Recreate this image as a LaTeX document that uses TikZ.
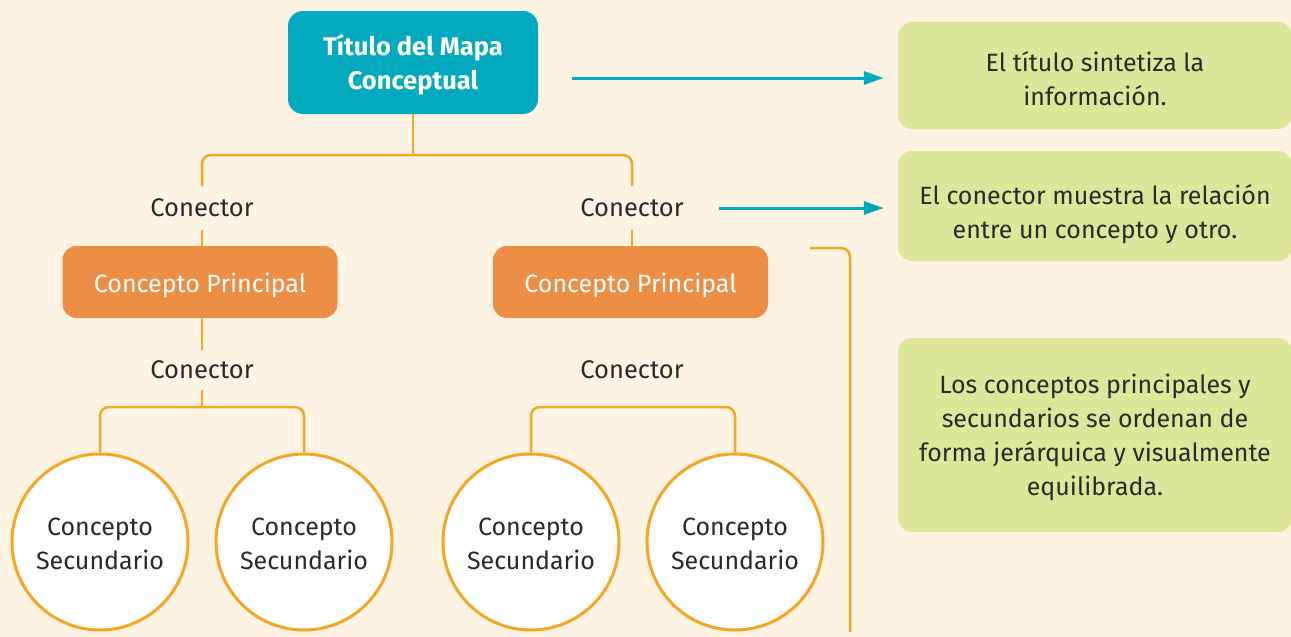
\documentclass[tikz,border=0pt]{standalone}
\usepackage{fontspec}
\setmainfont{Fira Sans}
\usetikzlibrary{arrows.meta}
\definecolor{bg}{HTML}{FDF3E2}
\definecolor{teal}{HTML}{03AABF}
\definecolor{orbox}{HTML}{EC8E45}
\definecolor{orline}{HTML}{F5A623}
\definecolor{green}{HTML}{DDE799}
\definecolor{txt}{HTML}{2A2A2A}
\tikzset{
  tdown/.style={execute at begin node={\rule{0pt}{#1}}},
  titlebox/.style={fill=teal, rounded corners=15pt, minimum width=250pt, minimum height=103pt, inner sep=0pt, text=white, align=center, font=\fontsize{25.5}{34}\selectfont\bfseries, text depth=1pt},
  pbox/.style={fill=orbox, rounded corners=14pt, minimum width=275pt, minimum height=72pt, inner sep=0pt, text=white, font=\fontsize{25}{34}\selectfont, tdown=26pt},
  sec/.style={circle, draw=orline, line width=3pt, fill=white, minimum size=176pt, inner sep=0pt, text=txt, align=center, font=\fontsize{25}{34}\selectfont, text depth=0pt},
  lbl/.style={inner sep=0pt, text=txt, font=\fontsize{25.5}{34}\selectfont},
  note/.style={fill=green, rounded corners=14pt, minimum width=394pt, inner sep=0pt, text=txt, align=center, font=\fontsize{25}{34}\selectfont, text depth=0pt},
  oline/.style={draw=orline, line width=2.5pt, rounded corners=9pt},
  tarrow/.style={draw=teal, line width=3pt, -{Triangle[length=20pt,width=13pt]}},
}
\begin{document}
\begin{tikzpicture}[x=1pt,y=-1pt]
\fill[bg] (0,0) rectangle (1291,637);
\useasboundingbox (0,0) rectangle (1291,637);
% nodes
\node[titlebox] (title) at (413,62.5) {Título del Mapa\\Conceptual};
\node[lbl, minimum height=44pt] (c1) at (202,208) {Conector};
\node[lbl, minimum height=44pt] (c2) at (632,208) {Conector};
\node[pbox] (p1) at (200,282) {Concepto Principal};
\node[pbox] (p2) at (630.5,282) {Concepto Principal};
\node[lbl, minimum height=40pt] (c3) at (202,370) {Conector};
\node[lbl, minimum height=40pt] (c4) at (632,370) {Conector};
\node[sec] (s1) at (100,542) {\rule{0pt}{20pt}Concepto\\Secundario};
\node[sec] (s2) at (304,542) {\rule{0pt}{20pt}Concepto\\Secundario};
\node[sec] (s3) at (531,542) {\rule{0pt}{20pt}Concepto\\Secundario};
\node[sec] (s4) at (735,542) {\rule{0pt}{20pt}Concepto\\Secundario};
\node[note, minimum height=107pt] (g1) at (1095,75.5) {\rule{0pt}{25pt}El título sintetiza la\\información.};
\node[note, minimum height=110pt] (g2) at (1095,206) {\rule{0pt}{31pt}El conector muestra la relación\\entre un concepto y otro.};
\node[note, minimum height=194pt] (g3) at (1095,435) {Los conceptos principales y\\secundarios se ordenan de\\forma jerárquica y visualmente\\equilibrada.};
% coordinates
\coordinate (hy1) at (0,155);
\coordinate (hy2) at (0,407);
\coordinate (a1) at (0,78);
\coordinate (a2) at (0,208);
\coordinate (b1) at (810,248);
\coordinate (b2) at (850,632);
% orange connectors
\draw[oline] (title.south) -- (title.south |- hy1);
\draw[oline] (c1.north) |- (title.south |- hy1) -| (c2.north);
\draw[oline] (c1.south) -- (p1.north -| c1.south);
\draw[oline] (c2.south) -- (p2.north -| c2.south);
\draw[oline] (p1.south -| c3.north) -- (c3.north);
\draw[oline] (c3.south) -- (c3.south |- hy2);
\draw[oline] (s1.north) |- (c3.south |- hy2) -| (s2.north);
\draw[oline] (s3.north) |- (c4.south |- hy2) -| (s4.north);
\draw[oline] (b1) -| (b2);
% teal arrows
\draw[tarrow] ([xshift=34pt]title.east |- a1) -- ([xshift=-14pt]g1.west |- a1);
\draw[tarrow] ([xshift=35pt]c2.east |- a2) -- ([xshift=-14pt]g2.west |- a2);
\end{tikzpicture}
\end{document}
